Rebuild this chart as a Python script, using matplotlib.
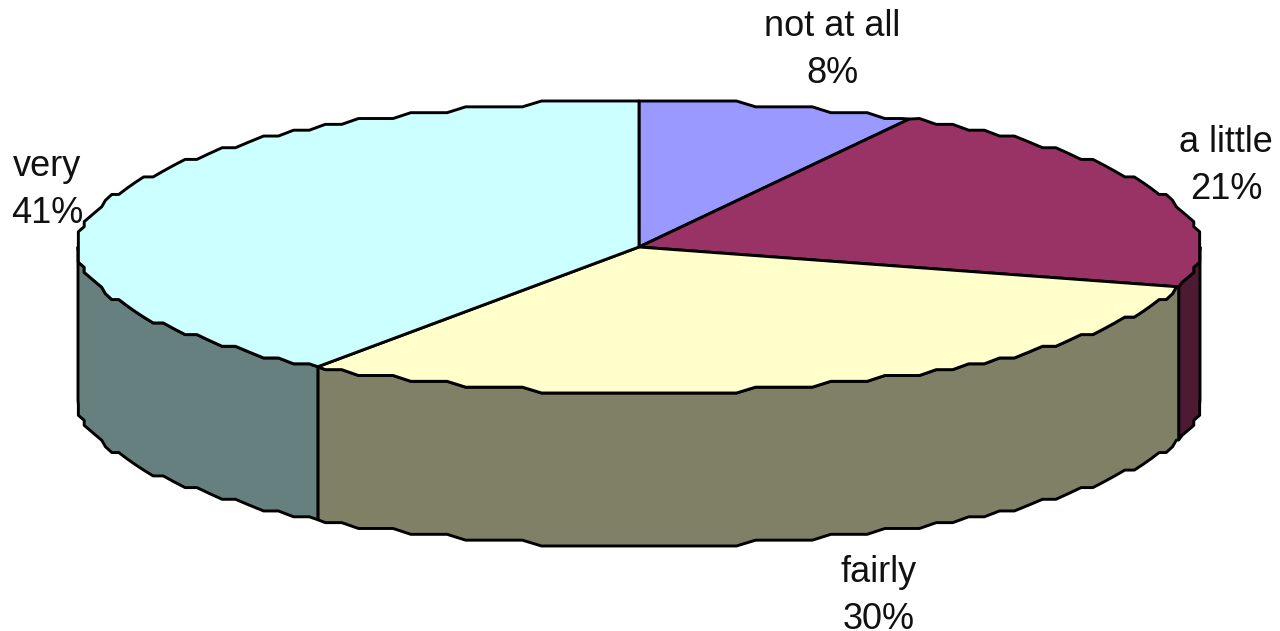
# Importing Required Libraries
import numpy as np
import matplotlib
matplotlib.use('Agg')
import matplotlib.pyplot as plt
from matplotlib.patches import Polygon

plt.rcParams['font.family'] = ['Liberation Sans', 'DejaVu Sans']

# Data, clockwise from the top of the pie
categories = ['not at all', 'a little', 'fairly', 'very']
shares = [8.0, 21.4, 30.3, 40.3]
share_labels = ['8%', '21%', '30%', '41%']
top_colors = ['#9999FF', '#993366', '#FFFFCC', '#CCFFFF']
side_colors = ['#5C5C99', '#4D1A33', '#808066', '#668080']

# Pie geometry in pixels
cx, cy = 639, 247
rx, ry = 561, 146
depth = 153
grid = 146 / 25  # the outline of the original is slightly wobbly
turn = np.radians(2.0)

# Label centres in pixels
label_x = [832, 1226, 879, 47]
label_y = [50, 166, 596, 190]


def rim(a0, a1):
    # Points on the top ellipse between two clockwise angles from the top
    a = np.arange(np.ceil(a0 / turn), np.floor(a1 / turn) + 1) * turn
    a = np.concatenate([[a0], a[(a > a0) & (a < a1)], [a1]])
    x = cx + rx * np.sin(a)
    y = cy - ry * np.cos(a)
    # Snap to a coarse grid along the flatter direction to get the low resolution wobble
    flat = np.abs(np.cos(a)) > 0.3
    y_w = np.where(flat, cy + np.round((y - cy) / grid) * grid, y)
    x_w = np.where(flat, x, cx + np.round((x - cx) / grid) * grid)
    x_w[[0, -1]] = x[[0, -1]]
    y_w[[0, -1]] = y[[0, -1]]
    return np.column_stack([x_w, y_w])


fig = plt.figure(figsize=(12.8, 6.31), dpi=100)
ax = fig.add_axes([0, 0, 1, 1])
ax.set_xlim(0, 1280)
ax.set_ylim(631, 0)
ax.axis('off')

edges = np.radians(np.concatenate([[0], np.cumsum(shares)]) * 3.6)

# Side walls first, only the front half of the pie is visible
for i in range(len(shares)):
    a0 = max(edges[i], np.pi / 2)
    a1 = min(edges[i + 1], 3 * np.pi / 2)
    if a1 <= a0:
        continue
    top = rim(a0, a1)
    bottom = top[::-1] + [0, depth]
    ax.add_patch(Polygon(np.vstack([top, bottom]), closed=True, facecolor=side_colors[i],
                         edgecolor='black', linewidth=2.1, joinstyle='round'))

# Top faces
for i in range(len(shares)):
    pts = np.vstack([[[cx, cy]], rim(edges[i], edges[i + 1])])
    ax.add_patch(Polygon(pts, closed=True, facecolor=top_colors[i],
                         edgecolor='black', linewidth=2.1, joinstyle='round'))

# Category and percentage labels
for name, pct, x, y in zip(categories, share_labels, label_x, label_y):
    ax.text(x, y, name + '\n' + pct, ha='center', va='center',
            fontsize=26, linespacing=1.44, color='#111111')

fig.savefig('out.png', dpi=100)
